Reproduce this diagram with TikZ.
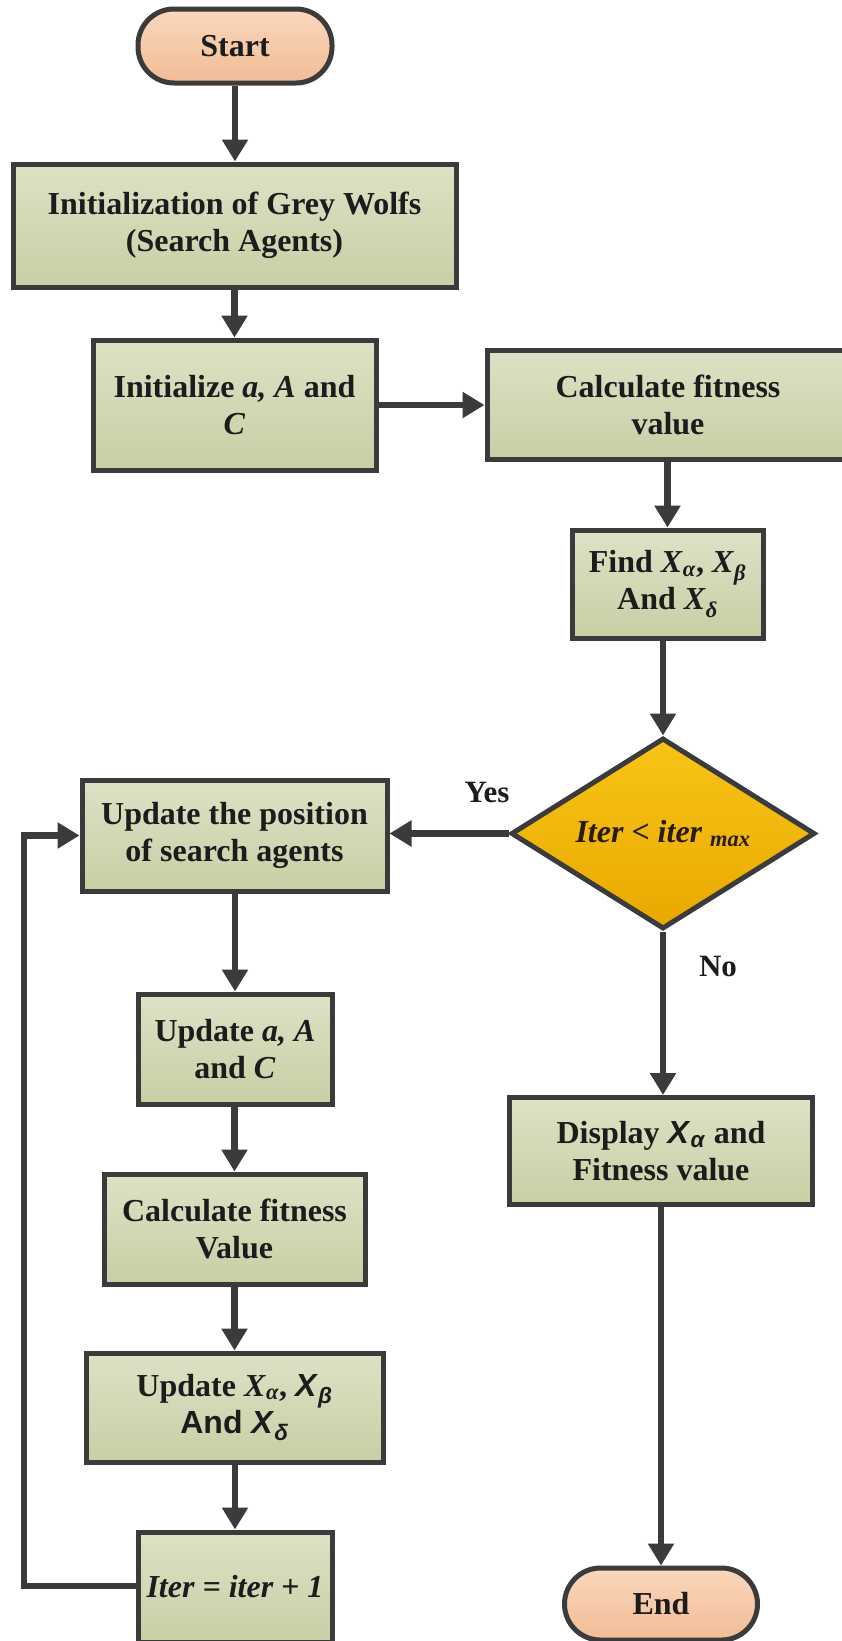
\documentclass[tikz,border=0pt]{standalone}
\usepackage{fontspec}
\setmainfont{Liberation Serif}
\setsansfont{Liberation Sans}
\usetikzlibrary{arrows.meta,shapes.geometric}

\definecolor{edgecol}{HTML}{3B3B3B}
\definecolor{ink}{HTML}{1C1C1C}
\definecolor{decink}{HTML}{2A1A0A}
\definecolor{boxtop}{HTML}{DCE2C5}
\definecolor{boxbot}{HTML}{C7CFA5}
\definecolor{peachtop}{HTML}{FBD7BC}
\definecolor{peachbot}{HTML}{F1BC96}
\definecolor{goldtop}{HTML}{F8C418}
\definecolor{goldbot}{HTML}{E8A900}

\tikzset{
  flowbox/.style={rectangle, draw=edgecol, line width=5pt,
    top color=boxtop, bottom color=boxbot, text=ink, align=center,
    inner sep=0pt, font=\bfseries\fontsize{32}{37}\selectfont},
  termbox/.style={rectangle, rounded corners=36pt, draw=edgecol, line width=5pt,
    top color=peachtop, bottom color=peachbot, text=ink, inner sep=0pt,
    font=\bfseries\fontsize{32}{37}\selectfont},
  decbox/.style={diamond, aspect=1.6, draw=edgecol, line width=5pt,
    top color=goldtop, bottom color=goldbot, text=decink, inner sep=0pt,
    font=\bfseries\itshape\fontsize{32}{37}\selectfont},
  flow/.style={draw=edgecol, line width=6.5pt, -{Triangle[width=25pt,length=22pt]}},
  tag/.style={font=\bfseries\fontsize{31}{37}\selectfont, text=ink}
}

\begin{document}
\begin{tikzpicture}[x=1pt,y=-1pt]
  \fill[white] (0,0) rectangle (842,1641);
  \clip (0,0) rectangle (842,1641);

  % left column
  \node[termbox, minimum width=194pt, minimum height=74pt] (start) at (235,46) {Start};
  \node[flowbox, minimum width=443pt, minimum height=123pt] (init) at (234.5,225.5)
    {Initialization of Grey Wolfs\\(Search Agents)};
  \node[flowbox, minimum width=283pt, minimum height=130pt] (initp) at (234.5,405)
    {Initialize \textit{a, A} and\\\textit{C}};

  % right column
  \node[flowbox, minimum width=362pt, minimum height=109pt] (calc1) at (668,404.5)
    {Calculate fitness\\value};
  \node[flowbox, minimum width=191pt, minimum height=108pt] (find) at (667.5,584)
    {Find \textit{X}\textsubscript{\textit{α}}, \textit{X}\textsubscript{\textit{β}}\\And \textit{X}\textsubscript{\textit{δ}}};
  \node[decbox, minimum width=304pt, minimum height=191pt] (dec) at (663,833.5)
    {Iter < iter \textsubscript{max}};
  \node[flowbox, minimum width=303pt, minimum height=107pt] (disp) at (661,1151)
    {Display {\sffamily\textit{X}\textsubscript{\textit{α}}} and\\Fitness value};
  \node[termbox, minimum width=193pt, minimum height=72pt] (end) at (661,1604) {End};

  % update loop
  \node[flowbox, minimum width=305pt, minimum height=111pt] (upd) at (234.5,835.5)
    {Update the position\\of search agents};
  \node[flowbox, minimum width=194pt, minimum height=110pt] (upda) at (235,1049)
    {Update \textit{a, A}\\and \textit{C}};
  \node[flowbox, minimum width=261pt, minimum height=110pt] (calc2) at (234.5,1229)
    {Calculate fitness\\Value};
  \node[flowbox, minimum width=297pt, minimum height=109pt] (updx) at (234.5,1407.5)
    {Update \textit{X}\textsubscript{\textit{α}}, {\sffamily\textit{X}\textsubscript{\textit{β}}}\\{\sffamily And \textit{X}\textsubscript{\textit{δ}}}};
  \node[flowbox, minimum width=194pt, minimum height=110pt] (iter) at (235,1587)
    {\textit{Iter = iter + 1}};

  \coordinate (loopc) at (24,1586);

  % labels
  \node[tag] (yes) at (487,792) {Yes};
  \node[tag] (no) at (718,966) {No};

  % connectors
  \draw[flow] (start) -- (start |- init.north);
  \draw[flow] (init.south -| initp) -- (initp.north);
  \draw[flow] (initp.east) -- (initp.east -| calc1.west);
  \draw[flow] (calc1.south -| find.north) -- (find.north);
  \draw[flow] (find.south -| dec.north) -- (dec.north);
  \draw[flow] (dec.west) -- (dec.west -| upd.east);
  \draw[flow] (dec.south) -- (dec.south |- disp.north);
  \draw[flow] (disp.south -| end.north) -- (end.north);
  \draw[flow] (upd.south -| upda) -- (upda.north);
  \draw[flow] (upda.south -| calc2) -- (calc2.north);
  \draw[flow] (calc2.south -| updx) -- (updx.north);
  \draw[flow] (updx.south -| iter) -- (iter.north);
  \draw[flow] (iter.west |- loopc) -- (loopc) |- (upd.west);
\end{tikzpicture}
\end{document}
